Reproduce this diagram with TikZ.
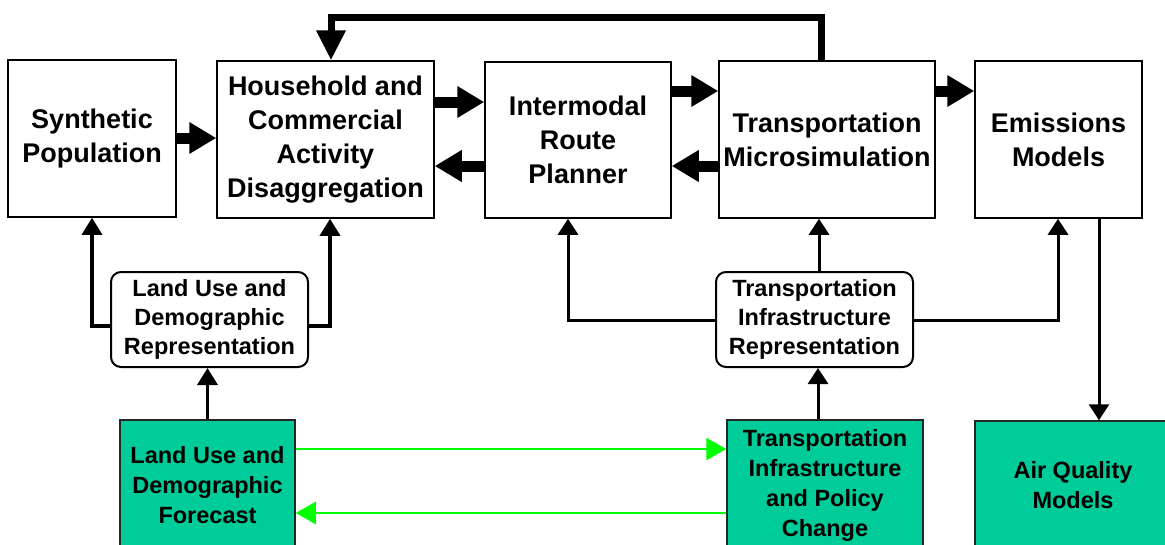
\documentclass[tikz,border=0pt]{standalone}
\usepackage{fontspec}
\setmainfont{Liberation Sans}
\usetikzlibrary{arrows.meta}
\definecolor{boxgreen}{RGB}{0,204,153}
\definecolor{arrowgreen}{RGB}{0,255,0}
\begin{document}
\begin{tikzpicture}[x=1pt,y=-1pt,
  mainbox/.style={draw=black, line width=1.5pt, fill=white, align=center, font=\fontsize{27}{34}\selectfont\bfseries, inner sep=0pt},
  reprbox/.style={draw=black, line width=2pt, rounded corners=10pt, fill=white, align=center, font=\fontsize{23.5}{29}\selectfont\bfseries, inner sep=0pt},
  greenbox/.style={draw=black!85, line width=1.5pt, fill=boxgreen, align=center, font=\fontsize{23.5}{30}\selectfont\bfseries, inner sep=0pt},
  bigarrow/.style={line width=11pt, -{Triangle[length=27pt,width=30pt]}},
  feedarrow/.style={line width=7pt, -{Triangle[length=30pt,width=28pt]}},
  smallarrow/.style={line width=3.5pt, -{Triangle[length=17pt,width=20pt]}},
  thinarrow/.style={line width=3pt, -{Triangle[length=16pt,width=20pt]}},
  greenarrow/.style={draw=arrowgreen, line width=2.5pt, -{Triangle[length=20pt,width=22pt]}},
]
\useasboundingbox (0,0) rectangle (1165,544);
\clip (0,0) rectangle (1165,544);
\fill[white] (0,0) rectangle (1165,544);

% top row
\node[mainbox, minimum width=168pt, minimum height=157pt] (syn) at (92,138.5) {Synthetic\\Population};
\node[mainbox, minimum width=217pt, minimum height=157pt] (hh) at (325.5,139.5) {Household and\\Commercial\\Activity\\Disaggregation};
\node[mainbox, minimum width=186pt, minimum height=156pt] (irp) at (578,140) {Intermodal\\Route\\Planner};
\node[mainbox, minimum width=216pt, minimum height=157pt] (tms) at (827,139.5) {Transportation\\Microsimulation};
\node[mainbox, minimum width=167pt, minimum height=157pt] (em) at (1058.5,139.5) {Emissions\\Models};

% representation row
\node[reprbox, minimum width=197pt, minimum height=95pt] (ludr) at (209.5,319.5) {Land Use and\\Demographic\\Representation};
\node[reprbox, minimum width=197pt, minimum height=95pt] (tir) at (814.5,319.5) {Transportation\\Infrastructure\\Representation};

% green row
\node[greenbox, minimum width=175pt, minimum height=130pt] (ludf) at (207.5,485) {Land Use and\\Demographic\\Forecast};
\node[greenbox, minimum width=196pt, minimum height=130pt] (tipc) at (825,485) {Transportation\\Infrastructure\\and Policy\\Change};
\node[greenbox, minimum width=196pt, minimum height=129pt] (aq) at (1073,485.5) {Air Quality\\Models};

% big arrows
\draw[bigarrow] (syn.east |- 0,138) -- (hh.west |- 0,138);
\draw[bigarrow] (hh.east |- 0,102) -- (irp.west |- 0,102);
\draw[bigarrow] (irp.west |- 0,166) -- (hh.east |- 0,166);
\draw[bigarrow] (irp.east |- 0,91) -- (tms.west |- 0,91);
\draw[bigarrow] (tms.west |- 0,166) -- (irp.east |- 0,166);
\draw[bigarrow] (tms.east |- 0,91) -- (em.west |- 0,91);

% feedback
\coordinate (fb1) at (821,17);
\coordinate (fb2) at (331,17);
\draw[feedarrow] (tms.north -| fb1) -- (fb1) -- (fb2) -- (hh.north -| fb2);

% land use representation
\draw[smallarrow] (ludr.west |- 0,326) -| (syn.south);
\draw[smallarrow] (ludr.east |- 0,326) -| (hh.south -| 330,0);
\draw[smallarrow] (ludf.north) -- (ludf.north |- ludr.south);

% transportation infrastructure representation
\draw[thinarrow] (tir.west |- 0,320) -| (irp.south -| 568,0);
\draw[thinarrow] (tir.north -| 819,0) -- (tms.south -| 819,0);
\draw[thinarrow] (tir.east |- 0,320) -| (em.south -| 1058,0);
\draw[thinarrow] (tipc.north -| 818,0) -- (tir.south -| 818,0);

% emissions to air quality
\draw[thinarrow] (em.south -| 1099,0) -- (aq.north -| 1099,0);

% green arrows
\draw[greenarrow] (ludf.east |- 0,449) -- (tipc.west |- 0,449);
\draw[greenarrow] (tipc.west |- 0,513) -- (ludf.east |- 0,513);
\end{tikzpicture}
\end{document}
